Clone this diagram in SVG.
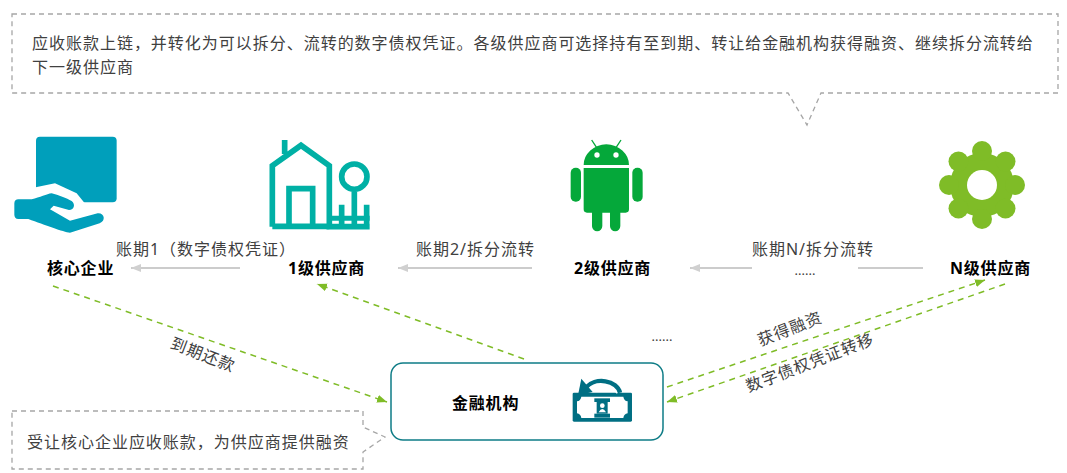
<svg xmlns="http://www.w3.org/2000/svg" width="1067" height="473" viewBox="0 0 1067 473">
<style>
text{font-family:"Noto Sans","Noto Sans CJK SC",sans-serif}
.t{font-size:16px;fill:#404040;letter-spacing:.98px}
.b{font-size:16px;font-weight:700;fill:#000;letter-spacing:.8px}
.e{font-size:13px;fill:#404040}
.call{fill:none;stroke:#a6a6a6;stroke-width:1.300;stroke-dasharray:5 4}
.g{fill:none;stroke:#bfbfbf;stroke-width:2;stroke-opacity:.8}
.d{fill:none;stroke:#7fbc27;stroke-width:1.500;stroke-dasharray:6 5}
</style>
<defs>
<marker id="ag" markerUnits="userSpaceOnUse" markerWidth="12" markerHeight="10" refX="10" refY="4" orient="auto"><path d="M0 0L10 4L0 8Z" fill="#d0d0d0"/></marker>
<marker id="ad" markerUnits="userSpaceOnUse" markerWidth="12" markerHeight="10" refX="10" refY="4" orient="auto"><path d="M0 0L10 4L0 8Z" fill="#7fbc27"/></marker>
</defs>
<g id="note-top">
<path class="call" d="M12 14H1058V93H821L807 125L788 93H12Z"/>
<text class="t" x="32" y="49">应收账款上链，并转化为可以拆分、流转的数字债权凭证。各级供应商可选择持有至到期、转让给金融机构获得融资、继续拆分流转给</text>
<text class="t" x="32" y="73">下一级供应商</text>
</g>
<g id="note-bottom">
<path class="call" d="M12 411H363V427L385 437L363 452V469H12Z"/>
<text class="t" x="27" y="448">受让核心企业应收账款，为供应商提供融资</text>
</g>
<g id="connectors">
<path class="g" marker-end="url(#ag)" d="M240 268H131"/>
<path class="g" marker-end="url(#ag)" d="M532 268H398"/>
<path class="g" marker-end="url(#ag)" d="M752 268H690"/>
<path class="g" d="M923 268H858"/>
<path class="d" marker-end="url(#ad)" d="M53 286L387 402"/>
<path class="d" marker-end="url(#ad)" d="M524 359L317 284"/>
<path class="d" marker-end="url(#ad)" d="M667 387L985 280"/>
<path class="d" marker-end="url(#ad)" d="M1005 284L667 402"/>
<text class="t" x="116" y="255">账期1（数字债权凭证）</text>
<text class="t" x="416" y="255">账期2/拆分流转</text>
<text class="t" x="752" y="255">账期N/拆分流转</text>
<text class="e" x="805" y="275" text-anchor="middle">......</text>
<text class="e" x="662" y="341" text-anchor="middle">......</text>
<text class="t" text-anchor="middle" transform="translate(201 360) rotate(21)">到期还款</text>
<text class="t" text-anchor="middle" transform="translate(792 334) rotate(-21)">获得融资</text>
<text class="t" text-anchor="middle" transform="translate(812 368) rotate(-21)">数字债权凭证转移</text>
</g>
<g id="core">
<g transform="translate(5 130) scale(.3333)">
<rect x="93" y="20" width="242" height="197" rx="12" fill="#009fbb"/>
<path fill="#fff" d="M85 173L150 160L215 190L237 217V240H130L80 212Z"/>
<path fill="#009fbb" d="M40 208H80C105 202 125 192 140 190C160 195 185 205 200 213C212 222 208 240 192 240L146 227L135 238L195 272L278 250C298 248 304 272 284 280L195 308C175 306 120 285 70 267H40C32 267 28 260 28 254V220C28 212 33 208 40 208Z"/>
</g>
<text class="b" x="47" y="274">核心企业</text>
</g>
<g id="supplier-1">
<g transform="translate(260 130) scale(.3333)" fill="none" stroke="#00b0a5" stroke-width="17">
<path d="M37 290V107L123 46L208 107V290H329M74 30V72M87 282V176H158V282M283 185V297M245 224V297M320 224V297"/>
<path d="M208 265H329" stroke-width="15"/>
<path d="M37 289H208"/>
<circle cx="283" cy="140" r="38"/>
</g>
<text class="b" x="288" y="274">1级供应商</text>
</g>
<g id="supplier-2">
<g transform="translate(540 125) scale(.3333)" fill="#05a83a">
<path d="M131 120A68 62 0 0 1 267 120Z"/>
<path d="M131 129H267V253Q267 263 257 263H241V303A15.500 15.500 0 0 1 210 303V263H187V303A15.500 15.500 0 0 1 156 303V263H141Q131 263 131 253Z"/>
<rect x="92" y="128" width="31" height="102" rx="15"/>
<rect x="277" y="128" width="31" height="102" rx="15"/>
<path d="M155 45L170 68M243 45L228 68" stroke="#05a83a" stroke-width="4"/>
<circle cx="171" cy="90" r="8" fill="#fff"/>
<circle cx="228" cy="90" r="8" fill="#fff"/>
</g>
<text class="b" x="574" y="274">2级供应商</text>
</g>
<g id="supplier-n">
<g fill="#7fbc27">
<circle cx="982" cy="185" r="32"/>
<circle cx="982" cy="151" r="10"/>
<circle cx="982" cy="219" r="10"/>
<circle cx="949" cy="185" r="10"/>
<circle cx="1015" cy="185" r="10"/>
<circle cx="958.500" cy="161.500" r="10"/>
<circle cx="1005.500" cy="161.500" r="10"/>
<circle cx="958.500" cy="208.500" r="10"/>
<circle cx="1005.500" cy="208.500" r="10"/>
<circle cx="982" cy="185" r="15" fill="#fff"/>
</g>
<text class="b" x="950" y="274">N级供应商</text>
</g>
<g id="bank">
<rect x="391" y="363" width="272" height="77" rx="12" fill="#fff" stroke="#0e7c86" stroke-width="1.500"/>
<text class="b" x="452" y="409">金融机构</text>
<g transform="translate(560 370) scale(.3333)">
<rect x="38" y="68" width="178" height="87" rx="4" fill="#006f83"/>
<path fill="#fff" d="M64 80H190Q192 92 203 94V130Q192 132 190 144H64Q62 132 51 130V94Q62 92 64 80Z"/>
<path d="M180 68A56 42 0 0 0 78 52" fill="none" stroke="#fff" stroke-width="24"/>
<path d="M180 68A56 42 0 0 0 78 52" fill="none" stroke="#006f83" stroke-width="13"/>
<path d="M64 26L98 66L54 76Z" fill="#006f83"/>
<rect x="103" y="85" width="47" height="11" fill="#006f83"/>
<rect x="103" y="131" width="47" height="12" fill="#006f83"/>
<rect x="110" y="96" width="33" height="35" fill="#006f83"/>
<circle cx="127" cy="107" r="7" fill="#fff"/>
<path d="M116 127Q127 107 138 127Z" fill="#fff"/>
</g>
</g>
</svg>
